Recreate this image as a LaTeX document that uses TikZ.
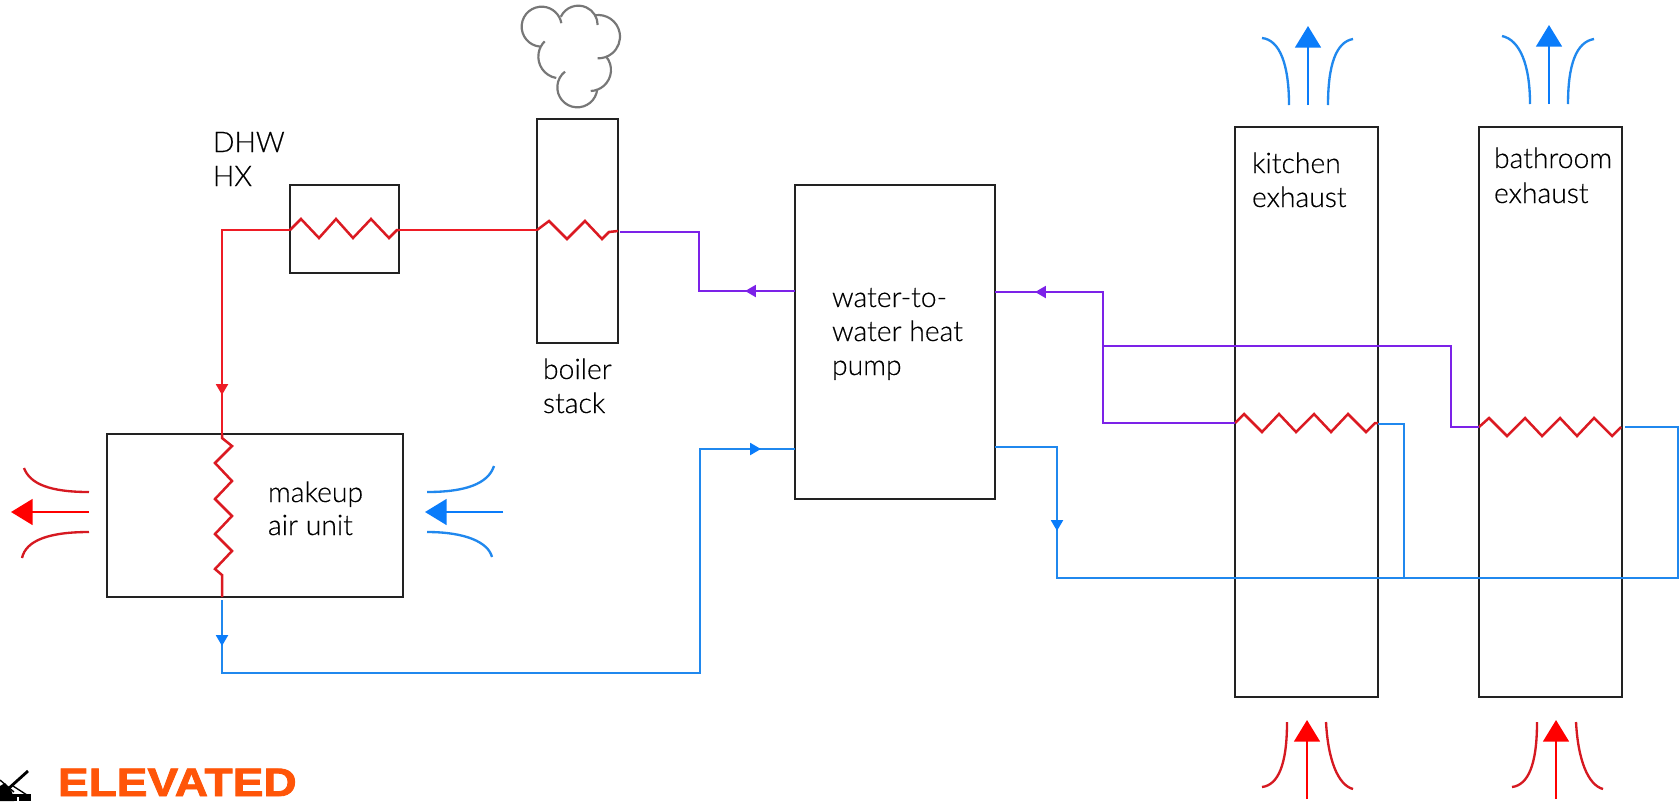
\documentclass[tikz,border=0pt]{standalone}
\usepackage{fontspec}
\setmainfont{Lato Light}[FakeBold=0.35]
\newfontfamily\logofont{Liberation Sans Bold}[FakeBold=2.2,FakeStretch=1.16]
\usetikzlibrary{arrows.meta}
\definecolor{cred}{HTML}{EE1C25}
\definecolor{cpur}{HTML}{7C22E8}
\definecolor{cblu}{HTML}{2088EE}
\definecolor{tipb}{HTML}{0A7CFA}
\definecolor{cblk}{HTML}{222222}
\definecolor{cgry}{HTML}{777777}
\definecolor{corg}{HTML}{FF5508}
\def\pu{0.6pt}
\newcommand{\lobe}[5]{\draw (#1,#2) ++(#4:#3) arc[start angle=#4,end angle=#5,radius=#3];}
\tikzset{
 x=0.6pt,y=-0.6pt,
 box/.style={draw=cblk,line width=1.5pt,fill=none,inner sep=0pt,outer sep=0pt,anchor=north west},
 lab/.style={anchor=base west,inner sep=0pt,outer sep=0pt,font=\fontsize{17}{20}\selectfont,text=black},
 pipe/.style={line width=1.7pt,line join=miter},
 redp/.style={pipe,draw=cred},
 purp/.style={pipe,draw=cpur},
 blup/.style={pipe,draw=cblu},
 coil/.style={line width=1.5pt,draw=cred!92!black,line join=miter},
 smalltip/.style={-{Triangle[length=6.5pt,width=7pt]}},
 bigtip/.style={-{Triangle[length=13pt,width=15.5pt]}},
 air/.style={line width=1.4pt,line cap=butt},
}
\begin{document}
\begin{tikzpicture}
\useasboundingbox (0,0) rectangle (1680,801);
\fill[white] (0,0) rectangle (1680,801);

% boxes
\node[box,minimum width=109*\pu,minimum height=88*\pu] (dhw) at (290,185) {};
\node[box,minimum width=81*\pu,minimum height=224*\pu] (stack) at (537,119) {};
\node[box,minimum width=200*\pu,minimum height=314*\pu] (hp) at (795,185) {};
\node[box,minimum width=296*\pu,minimum height=163*\pu] (mau) at (107,434) {};
\node[box,minimum width=143*\pu,minimum height=570*\pu] (kit) at (1235,127) {};
\node[box,minimum width=143*\pu,minimum height=570*\pu] (bath) at (1479,127) {};

% labels
\node[lab] (l1) at (213,152) {DHW};
\node[lab] (l2) at (213,186) {HX};
\node[lab] (l3) at (543,379) {boiler};
\node[lab] (l4) at (543,413) {stack};
\node[lab] (l5) at (832,307) {water-to-};
\node[lab] (l6) at (832,341) {water heat};
\node[lab] (l7) at (832,375) {pump};
\node[lab] (l8) at (268,502) {makeup};
\node[lab] (l9) at (268,535) {air unit};
\node[lab] (l10) at (1252,173) {kitchen};
\node[lab] (l11) at (1252,207) {exhaust};
\node[lab] (l12) at (1494,168) {bathroom};
\node[lab] (l13) at (1494,203) {exhaust};

% named connection points
\coordinate (dhwL) at (290,230);
\coordinate (dhwR) at (399,230);
\coordinate (stL) at (537,230);
\coordinate (stR) at (618,231);
\coordinate (stOut) at (620,232);
\coordinate (hpLt) at (795,291);
\coordinate (hpLb) at (795,449);
\coordinate (hpRt) at (995,292);
\coordinate (hpRb) at (995,447);
\coordinate (mauT) at (222,434);
\coordinate (mauB) at (222,597);
\coordinate (mauOut) at (222,600);
\coordinate (kL) at (1235,423);
\coordinate (kR) at (1378,423);
\coordinate (kOut) at (1378,424);
\coordinate (bL) at (1479,427);
\coordinate (bR) at (1621,427);
\coordinate (bOut) at (1625,427);

% red supply
\draw[redp] (dhwL) -- (222,230) -- (mauT);
\draw[redp] (dhwR) -- (stL);
\coordinate (a0s) at (222,384);\coordinate (a0e) at (222,395);
\draw[redp,smalltip,fill=cred] (a0s) -- (a0e);

% coils
\draw[coil] (dhwL) -- (301,219) -- (319,238) -- (336,219) -- (353,238) -- (371,219) -- (389,238) -- (397,230) -- (dhwR);
\draw[coil] (stL) -- (549,221) -- (567,239) -- (585,221) -- (602,239) -- (609,232) -- (stR);
\draw[coil] (mauT) -- (222,438) -- (232,446) -- (215,463) -- (232,481) -- (215,499) -- (232,516) -- (215,534) -- (232,551) -- (215,569) -- (222,575) -- (mauB);
\draw[coil] (kL) -- (1244,414) -- (1262,432) -- (1279,414) -- (1296,432) -- (1314,414) -- (1331,432) -- (1348,414) -- (1366,432) -- (1375,423) -- (kR);
\draw[coil] (bL) -- (1489,418) -- (1507,436) -- (1525,418) -- (1542,436) -- (1560,418) -- (1577,436) -- (1594,418) -- (1612,436) -- (bR);

% purple
\draw[purp] (stOut) -- (699,232) -- (699,291) -- (hpLt);
\draw[purp] (hpRt) -- (1103,292) -- (1103,423) -- (kL);
\draw[purp] (1103,346) -- (1451,346) -- (1451,427) -- (bL);
\coordinate (a1s) at (756,291);\coordinate (a1e) at (745,291);
\draw[purp,smalltip,fill=cpur] (a1s) -- (a1e);
\coordinate (a2s) at (1046,292);\coordinate (a2e) at (1035,292);
\draw[purp,smalltip,fill=cpur] (a2s) -- (a2e);

% blue
\draw[blup] (mauOut) -- (222,673) -- (700,673) -- (700,449) -- (hpLb);
\draw[blup] (hpRb) -- (1057,447) -- (1057,578) -- (1678,578) -- (1678,427) -- (bOut);
\draw[blup] (kOut) -- (1404,424) -- (1404,578);
\coordinate (a3s) at (222,635);\coordinate (a3e) at (222,646);
\draw[blup,smalltip,draw=tipb,fill=tipb] (a3s) -- (a3e);
\coordinate (a4s) at (750,449);\coordinate (a4e) at (761,449);
\draw[blup,smalltip,draw=tipb,fill=tipb] (a4s) -- (a4e);
\coordinate (a5s) at (1057,520);\coordinate (a5e) at (1057,531);
\draw[blup,smalltip,draw=tipb,fill=tipb] (a5s) -- (a5e);

% air flows: makeup discharge
\draw[air,draw=red,bigtip] (89,512) -- (11,512);
\draw[air,draw=cred!90!black] (89,492) .. controls (50,492) and (30,484) .. (24,468);
\draw[air,draw=cred!90!black] (89,532) .. controls (50,532) and (26,540) .. (22,558);
% makeup intake
\draw[air,draw=cblu,tipb,bigtip] (503,512) -- (425,512);
\draw[air,draw=cblu] (427,492) .. controls (465,492) and (488,484) .. (494,466);
\draw[air,draw=cblu] (427,532) .. controls (465,532) and (488,542) .. (492,557);
% kitchen top
\draw[air,draw=cblu,tipb,bigtip] (1308,105) -- (1308,26);
\draw[air,draw=cblu] (1289,105) .. controls (1289,65) and (1280,40) .. (1262,38);
\draw[air,draw=cblu] (1328,105) .. controls (1328,65) and (1336,42) .. (1353,39);
% bathroom top
\draw[air,draw=cblu,tipb,bigtip] (1549,104) -- (1549,25);
\draw[air,draw=cblu] (1530,104) .. controls (1530,65) and (1520,40) .. (1502,36);
\draw[air,draw=cblu] (1568,104) .. controls (1568,65) and (1576,42) .. (1594,39);
% kitchen bottom
\draw[air,draw=red,bigtip] (1307,799) -- (1307,720);
\draw[air,draw=cred!90!black] (1287,722) .. controls (1287,765) and (1278,785) .. (1262,787);
\draw[air,draw=cred!90!black] (1326,722) .. controls (1328,760) and (1338,785) .. (1353,789);
% bathroom bottom
\draw[air,draw=red,bigtip] (1556,799) -- (1556,720);
\draw[air,draw=cred!90!black] (1537,722) .. controls (1537,765) and (1528,785) .. (1512,787);
\draw[air,draw=cred!90!black] (1576,722) .. controls (1578,760) and (1588,785) .. (1603,789);

% cloud
\begin{scope}[shift={(190,0)},x=0.2pt,y=-0.2pt,cgry,line width=1.3pt]
\lobe{1055}{80}{60}{95}{350}
\lobe{1165}{75}{58}{205}{360}
\lobe{1225}{110}{65}{260}{452}
\lobe{1200}{210}{63}{-40}{88}
\lobe{1162}{262}{60}{5}{232}
\lobe{1110}{170}{65}{100}{225}
\end{scope}

% logo
\node[anchor=base west,inner sep=0pt,outer sep=0pt,text=corg] (elev) at (58,796)
  {\logofont\fontsize{23.8}{28}\selectfont ELEVATED};
% crane
\begin{scope}[black]
\draw[line width=1.7pt] (28,771) -- (8,789);
\draw[line width=.8pt] (0,780) -- (14,792);
\draw[line width=.8pt] (13,786) -- (27,795);
\fill (0,786) -- (5,783) -- (12,792) -- (14,801) -- (0,801) -- cycle;
\fill (8,794) rectangle (31,801);
\fill[white] (17,797) rectangle (19,801);
\end{scope}
\end{tikzpicture}
\end{document}
